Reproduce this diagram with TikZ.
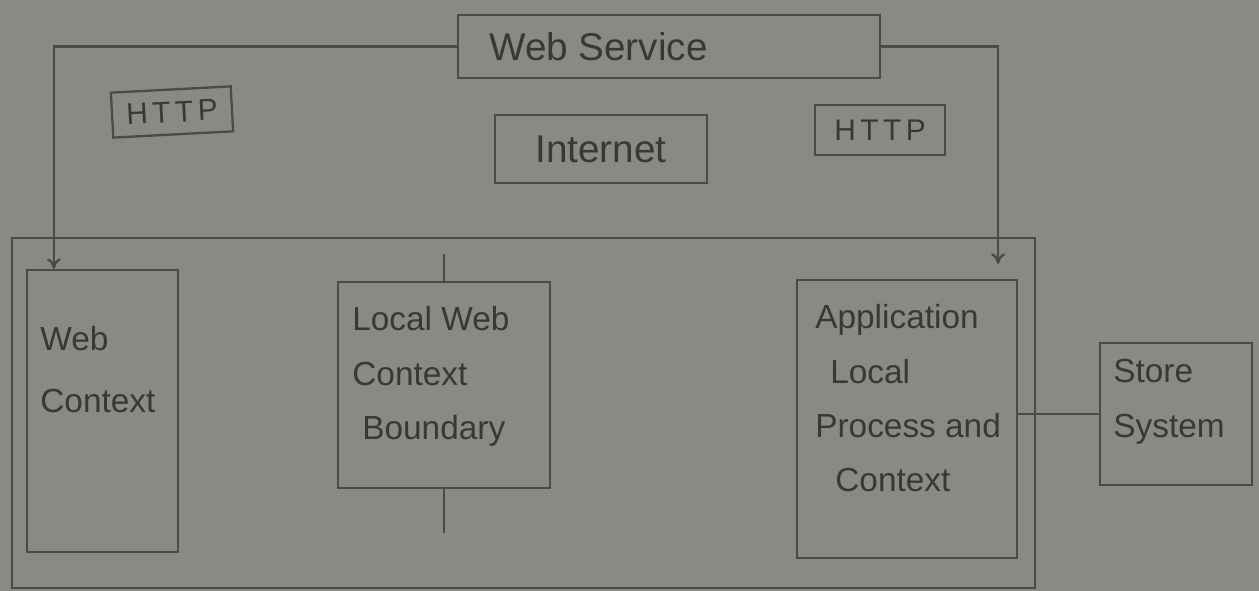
\documentclass[tikz,border=0pt]{standalone}
\usepackage{fontspec}
\setmainfont{Liberation Sans}
\usepackage{xcolor}
\usetikzlibrary{arrows.meta,positioning}
\definecolor{rpaper}{HTML}{8B8985}
\definecolor{rpencil}{HTML}{4A4A48}
\definecolor{rink}{HTML}{383836}

\begin{document}
\begin{tikzpicture}[x=0.02cm,y=-0.02cm,
  every node/.style={font=\fontsize{19}{31}\selectfont,text=rink},
  box/.style={draw=rpencil,line width=1.3pt,inner sep=0pt},
  link/.style={draw=rpencil,line width=1.3pt},
  tip/.style={-{To[length=6pt,width=8pt]}},
  lbl/.style={anchor=north west,align=left,inner sep=0pt},
  proto/.style={font=\fontsize{17}{20}\selectfont\addfontfeature{LetterSpace=15}}]
  \useasboundingbox (0,0) rectangle (1259,591);
  \fill[rpaper] (0,0) rectangle (1259,591);
  % top: service and internet
  \node[box,minimum width=8.44cm,minimum height=1.26cm] (websvc) at (669,46.5) {};
  \node[anchor=west,font=\fontsize{22}{26}\selectfont] (websvclbl) at (483,47) {Web Service};
  \node[box,proto,rotate=3,minimum width=2.4cm,minimum height=0.9cm] (httpL) at (172,112) {HTTP};
  \node[box,font=\fontsize{22}{26}\selectfont,minimum width=4.24cm,minimum height=1.36cm] (inet) at (601,149) {Internet};
  \node[box,proto,minimum width=2.6cm,minimum height=1cm] (httpR) at (880,130) {HTTP};
  % local machine
  \node[box,minimum width=20.46cm,minimum height=7cm] (outer) at (523.5,413) {};
  \node[box,minimum width=3.02cm,minimum height=5.64cm] (webctx) at (102.5,411) {};
  \node[lbl] (webctxlbl) at (40,326) {Web\\[4pt]Context};
  \node[box,minimum width=4.24cm,minimum height=4.12cm] (lwcb) at (444,385) {};
  \node[lbl] (lwcblbl) at (352,306) {Local Web\\Context\\\hspace*{0.2cm}Boundary};
  \node[box,minimum width=4.4cm,minimum height=5.56cm] (app) at (907,419) {};
  \node[lbl] (applbl) at (815,304) {Application\\\hspace*{0.3cm}Local\\Process and\\\hspace*{0.4cm}Context};
  \node[box,minimum width=3.04cm,minimum height=2.84cm] (store) at (1176,414) {};
  \node[lbl] (storelbl) at (1113,359) {Store\\System};
  % connectors
  \coordinate (inL) at ([xshift=0.56cm]webctx.north west);
  \coordinate (inR) at ([xshift=-0.4cm,yshift=0.3cm]app.north east);
  \draw[link,tip] (websvc.west) -| (inL);
  \draw[link,tip] (websvc.east) -| (inR);
  \coordinate (lwcbtop) at ([yshift=0.54cm]lwcb.north);
  \coordinate (lwcbbot) at ([yshift=-0.88cm]lwcb.south);
  \draw[link] (lwcbtop) -- (lwcb.north);
  \draw[link] (lwcb.south) -- (lwcbbot);
  \draw[link] (app.east |- store.west) -- (store.west);
\end{tikzpicture}
\end{document}
